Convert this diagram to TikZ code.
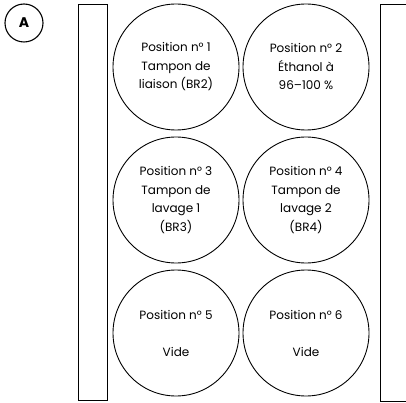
\documentclass[tikz,border=0pt]{standalone}
\usepackage{fontspec}
\setmainfont{Poppins}
\begin{document}
\begin{tikzpicture}[
		x=1pt,y=-1pt,
		well/.style={circle,draw,line width=0.9pt,minimum size=126pt,inner sep=0pt,align=center,
			font=\fontsize{12}{18.5}\selectfont},
		rail/.style={draw,line width=1pt},
		tag/.style={circle,draw,line width=1.1pt,minimum size=38pt,inner sep=0pt,
			font=\bfseries\fontsize{14}{14}\selectfont}
		]
		\useasboundingbox (0,0) rectangle (406,403);
		\node[tag] (A) at (24,23) {A};
		\draw[rail] (78,5) rectangle (107,400);
		\draw[rail] (408,5) -- (380,5) -- (380,401) -- (408,401);
		\node[well] (p1) at (176,67) {Position n° 1\\Tampon de\\liaison (BR2)};
		\node[well] (p2) at (306,67) {Position n° 2\\Éthanol à\\96–100 \%};
		\node[well] (p3) at (176,200) {Position n° 3\\Tampon de\\lavage 1\\(BR3)};
		\node[well] (p4) at (306,200) {Position n° 4\\Tampon de\\lavage 2\\(BR4)};
		\node[well] (p5) at (176,333) {Position n° 5\\ \\Vide};
		\node[well] (p6) at (306,333) {Position n° 6\\ \\Vide};
		\end{tikzpicture}
\end{document}
